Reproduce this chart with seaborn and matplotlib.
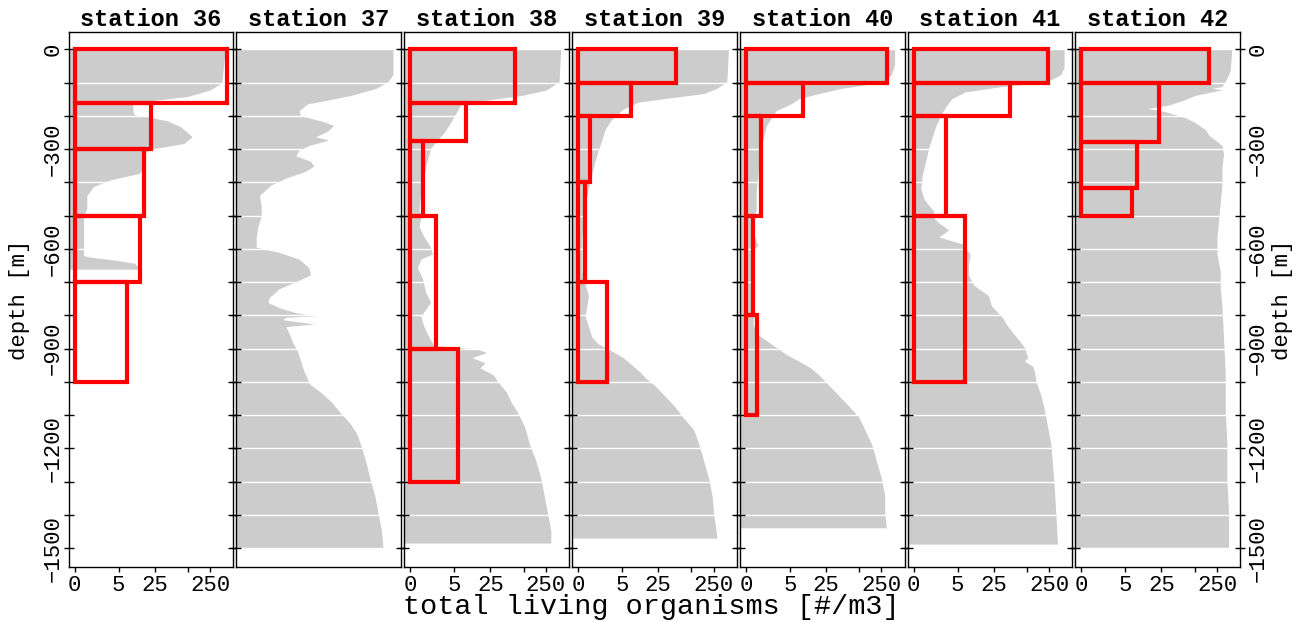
import numpy as np
import pandas as pd
import matplotlib
matplotlib.use("Agg")
import matplotlib.pyplot as plt
from matplotlib.ticker import MultipleLocator
import seaborn as sns

# ---- data ------------------------------------------------------------------
stations = [36, 37, 38, 39, 40, 41, 42]

xtick_values = [0, 5, 25, 100, 250]
xtick_labels = ["0", "5", "25", "", "250"]

# net hauls: depth bin edges [m] and total living organisms [#/m3]
st36_edges = [0, 160, 300, 500, 700, 1000]
st36_counts = [488, 21, 15.5, 13.4, 7.5]
st37_edges = []
st37_counts = []
st38_edges = [0, 160, 276, 500, 900, 1300]
st38_counts = [69, 8.5, 0.65, 1.83, 5.9]
st39_edges = [0, 100, 200, 400, 700, 1000]
st39_counts = [54, 7.65, 0.6, 0.31, 2.23]
st40_edges = [0, 100, 200, 500, 800, 1100]
st40_counts = [308, 9.3, 0.84, 0.31, 0.6]
st41_edges = [0, 100, 200, 500, 1000]
st41_counts = [235, 50, 2.7, 7.1]
st42_edges = [0, 100, 278, 418, 500]
st42_counts = [179, 22.8, 8.8, 6.8]

# background profile (grey): depth [m] and relative level (fraction of panel width)
st36_depth = [0, 100, 122, 142, 152, 162, 185, 197, 203, 215, 233, 263, 283, 298, 313, 340,
              360, 373, 393, 413, 440, 480, 500, 560, 620, 625, 632, 643, 655, 661]
st36_level = [0.95, 0.93, 0.86, 0.72, 0.54, 0.39, 0.39, 0.40, 0.48, 0.60, 0.68, 0.75, 0.70, 0.53,
              0.45, 0.46, 0.45, 0.43, 0.25, 0.15, 0.11, 0.11, 0.09, 0.09, 0.09, 0.13, 0.25, 0.40,
              0.42, 0.42]
st37_depth = [0, 76, 97, 117, 138, 154, 164, 185, 200, 216, 229, 247, 263, 273, 289, 304, 320,
              337, 351, 367, 387, 408, 439, 470, 502, 533, 564, 595, 611, 631, 657, 678, 699,
              720, 746, 761, 777, 792, 801, 806, 813, 826, 834, 855, 881, 907, 938, 969, 990,
              1005, 1031, 1062, 1093, 1125, 1156, 1197, 1249, 1291, 1343, 1395, 1447, 1500]
st37_level = [0.95, 0.95, 0.92, 0.85, 0.70, 0.54, 0.43, 0.38, 0.39, 0.52, 0.59, 0.55, 0.48, 0.56,
              0.44, 0.38, 0.36, 0.45, 0.47, 0.42, 0.30, 0.21, 0.14, 0.15, 0.15, 0.13, 0.12, 0.12,
              0.26, 0.38, 0.44, 0.45, 0.36, 0.26, 0.20, 0.19, 0.26, 0.36, 0.48, 0.30, 0.28, 0.47,
              0.30, 0.32, 0.34, 0.37, 0.39, 0.41, 0.43, 0.44, 0.51, 0.58, 0.63, 0.69, 0.73, 0.76,
              0.79, 0.81, 0.84, 0.86, 0.88, 0.89]
st38_depth = [0, 97, 123, 138, 154, 169, 195, 221, 252, 273, 299, 335, 377, 429, 481, 507, 533,
              564, 595, 616, 631, 657, 688, 730, 761, 782, 803, 834, 865, 891, 901, 912, 927,
              943, 958, 979, 1000, 1031, 1062, 1093, 1135, 1187, 1239, 1291, 1343, 1395, 1447, 1485]
st38_level = [0.95, 0.94, 0.86, 0.72, 0.48, 0.34, 0.31, 0.28, 0.24, 0.20, 0.16, 0.14, 0.12, 0.10,
              0.09, 0.10, 0.09, 0.12, 0.16, 0.17, 0.10, 0.08, 0.11, 0.13, 0.16, 0.13, 0.10, 0.12,
              0.15, 0.18, 0.44, 0.50, 0.41, 0.49, 0.46, 0.54, 0.57, 0.62, 0.65, 0.69, 0.73, 0.76,
              0.80, 0.83, 0.85, 0.87, 0.89, 0.89]
st39_depth = [0, 97, 117, 133, 148, 159, 180, 211, 242, 273, 304, 335, 377, 418, 460, 512, 564,
              616, 668, 709, 740, 772, 803, 834, 865, 886, 907, 927, 948, 969, 990, 1010, 1041,
              1072, 1104, 1145, 1187, 1239, 1291, 1343, 1395, 1470]
st39_level = [0.95, 0.94, 0.88, 0.80, 0.56, 0.40, 0.31, 0.24, 0.20, 0.18, 0.16, 0.14, 0.12, 0.10,
              0.08, 0.07, 0.06, 0.06, 0.06, 0.08, 0.10, 0.09, 0.08, 0.10, 0.12, 0.16, 0.24, 0.31,
              0.36, 0.41, 0.45, 0.50, 0.56, 0.62, 0.67, 0.74, 0.77, 0.80, 0.83, 0.85, 0.86, 0.88]
st40_depth = [0, 45, 76, 97, 107, 117, 133, 148, 164, 185, 206, 232, 273, 325, 377, 429, 481,
              522, 564, 590, 605, 647, 699, 751, 782, 824, 855, 875, 896, 917, 938, 958, 979,
              1010, 1041, 1072, 1104, 1145, 1187, 1239, 1291, 1343, 1395, 1439]
st40_level = [0.94, 0.94, 0.92, 0.88, 0.76, 0.62, 0.48, 0.36, 0.31, 0.22, 0.19, 0.16, 0.14, 0.12,
              0.11, 0.10, 0.10, 0.07, 0.09, 0.11, 0.08, 0.07, 0.07, 0.07, 0.09, 0.08, 0.10, 0.16,
              0.22, 0.28, 0.36, 0.43, 0.48, 0.54, 0.60, 0.66, 0.72, 0.76, 0.80, 0.83, 0.86, 0.88,
              0.88, 0.89]
st41_depth = [0, 55, 76, 97, 112, 128, 148, 174, 200, 232, 263, 294, 335, 377, 418, 450, 470,
              486, 502, 522, 543, 564, 585, 616, 647, 678, 709, 740, 772, 803, 834, 865, 896,
              927, 938, 953, 969, 1000, 1041, 1083, 1135, 1187, 1249, 1312, 1395, 1488]
st41_level = [0.95, 0.95, 0.93, 0.85, 0.57, 0.35, 0.27, 0.23, 0.20, 0.17, 0.15, 0.13, 0.11, 0.09,
              0.08, 0.10, 0.13, 0.16, 0.15, 0.19, 0.25, 0.19, 0.33, 0.38, 0.37, 0.37, 0.40, 0.49,
              0.51, 0.57, 0.61, 0.66, 0.71, 0.73, 0.71, 0.76, 0.77, 0.78, 0.81, 0.83, 0.85, 0.87,
              0.88, 0.89, 0.90, 0.91]
st42_depth = [0, 65, 97, 112, 117, 122, 138, 154, 167, 178, 188, 206, 221, 242, 258, 273, 289,
              315, 356, 408, 460, 512, 564, 616, 668, 720, 772, 875, 979, 1083, 1187, 1291,
              1395, 1498]
st42_level = [0.95, 0.94, 0.91, 0.89, 0.83, 0.89, 0.73, 0.65, 0.57, 0.44, 0.55, 0.67, 0.73, 0.79,
              0.81, 0.85, 0.89, 0.90, 0.89, 0.89, 0.88, 0.87, 0.86, 0.86, 0.88, 0.88, 0.89, 0.90,
              0.91, 0.91, 0.92, 0.92, 0.93, 0.93]

nets = {36: (st36_edges, st36_counts), 37: (st37_edges, st37_counts),
        38: (st38_edges, st38_counts), 39: (st39_edges, st39_counts),
        40: (st40_edges, st40_counts), 41: (st41_edges, st41_counts),
        42: (st42_edges, st42_counts)}
profiles = {36: (st36_depth, st36_level), 37: (st37_depth, st37_level),
            38: (st38_depth, st38_level), 39: (st39_depth, st39_level),
            40: (st40_depth, st40_level), 41: (st41_depth, st41_level),
            42: (st42_depth, st42_level)}

# ---- style ------------------------------------------------------------------
sns.set_theme(style="ticks")
plt.rcParams["font.family"] = ["Liberation Mono", "DejaVu Sans Mono"]
plt.rcParams.update({
    "axes.edgecolor": "black", "axes.linewidth": 1.0, "axes.axisbelow": "line",
    "text.color": "black", "axes.labelcolor": "black",
    "xtick.color": "black", "ytick.color": "black",
})


def fwd(x):
    return np.log10(np.maximum(np.asarray(x, float) + 1, 1e-6))


def inv(y):
    return 10 ** np.asarray(y, float) - 1


fig, axes = plt.subplots(1, 7, figsize=(13.03, 6.22), dpi=100, sharey=True)
fig.subplots_adjust(left=0.0527, right=0.9517, top=0.949, bottom=0.0884, wspace=0.0186)

for i, (ax, st) in enumerate(zip(axes, stations)):
    ax.set_xscale("function", functions=(fwd, inv))

    depth, level = profiles[st]
    ax.fill_betweenx(-np.asarray(depth, float), 0, level,
                     transform=ax.get_yaxis_transform(),
                     color="#cccccc", lw=0, zorder=1)

    edges, counts = nets[st]
    if edges:
        e = np.asarray(edges, float)
        net = pd.DataFrame({"elev": -(e[:-1] + e[1:]) / 2, "n": counts})
        # bins as a plain list: seaborn 0.13 trips over array bins with weights
        sns.histplot(data=net, y="elev", weights="n", bins=sorted((-e).tolist()),
                     fill=False, color="red", linewidth=3, zorder=3, ax=ax)

    ax.set_xlim(-0.22, 640)
    ax.set_ylim(-1557, 53)
    ax.yaxis.set_major_locator(MultipleLocator(300))
    ax.yaxis.set_minor_locator(MultipleLocator(100))
    ax.grid(False)
    ax.yaxis.grid(True, which="both", color="white", linewidth=1.0)

    ax.set_xticks(xtick_values)
    ax.set_xticklabels(xtick_labels)
    ax.tick_params(axis="x", which="both", direction="out", length=3.5, width=1,
                   top=False, labelsize=16, pad=2)
    if not edges:
        ax.tick_params(axis="x", bottom=False, labelbottom=False)

    ax.tick_params(axis="y", which="both", direction="inout", length=7, width=1,
                   left=True, right=True, labelleft=(i == 0), labelright=(i == 6),
                   labelrotation=90, labelsize=16, pad=(0 if i == 0 else 2))
    for sp in ax.spines.values():
        sp.set_visible(True)
        sp.set_color("black")

    ax.set_xlabel("")
    ax.set_ylabel("")
    ax.set_title(f"station {st}", fontsize=17, fontweight="bold", pad=4)

# rotated depth labels centred on their ticks
for ax in (axes[0], axes[-1]):
    for t in ax.yaxis.get_major_ticks():
        t.label1.set_va("center")
        t.label2.set_va("center")

axes[0].set_ylabel("depth [m]", fontsize=16, rotation=90, va="center", ha="center")
axes[0].yaxis.set_label_coords(-0.296, 0.5)
# right-hand depth label
axes[-1].text(1.255, 0.5, "depth [m]", transform=axes[-1].transAxes, fontsize=16,
              rotation=90, ha="center", va="center")

fig.text(0.5, 0.024, "total living organisms [#/m3]", ha="center", va="center", fontsize=20.5)

fig.savefig("out.png", dpi=100)
